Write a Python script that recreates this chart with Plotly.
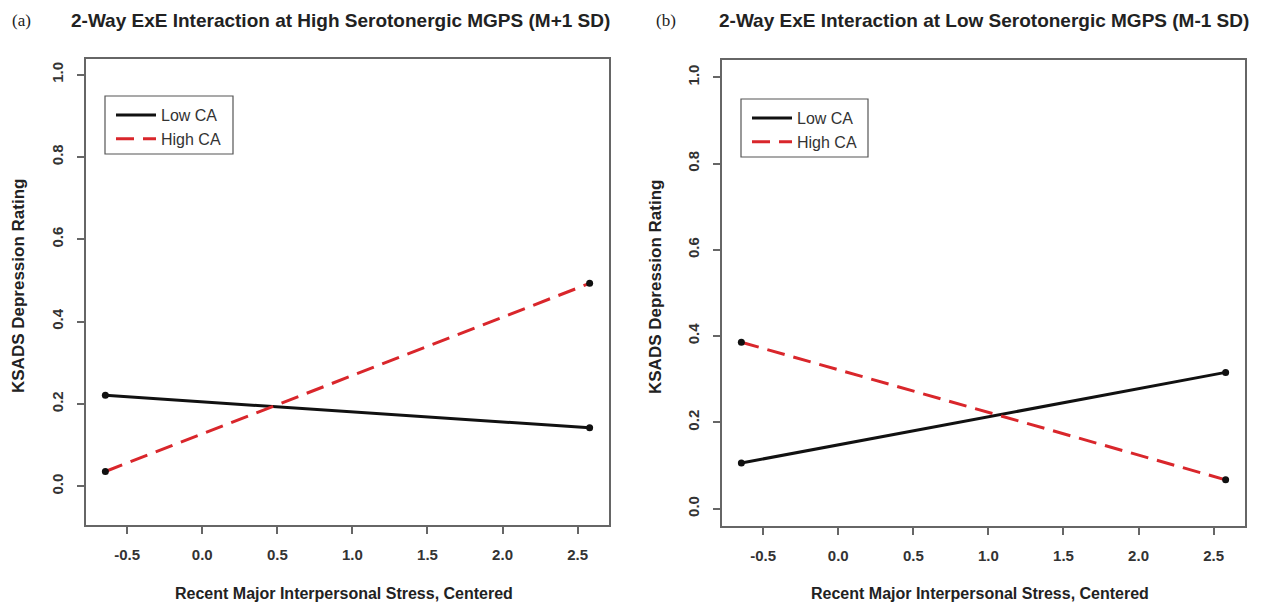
import plotly.graph_objects as go

# ---- data ----
stress_x = [-0.645, 2.58]
a_low_ca = [0.221, 0.142]
a_high_ca = [0.036, 0.493]
b_low_ca = [0.106, 0.316]
b_high_ca = [0.386, 0.067]
series_names = ["Low CA", "High CA"]
x_ticks = [-0.5, 0.0, 0.5, 1.0, 1.5, 2.0, 2.5]
y_ticks = [0.0, 0.2, 0.4, 0.6, 0.8, 1.0]
titles = ["2-Way ExE Interaction at High Serotonergic MGPS (M+1 SD)",
          "2-Way ExE Interaction at Low Serotonergic MGPS (M-1 SD)"]
panel_tags = ["(a)", "(b)"]
x_title = "Recent Major Interpersonal Stress, Centered"
y_title = "KSADS Depression Rating"

x_ticktext = [f"{v:.1f}" for v in x_ticks]
y_ticktext = [f"{v:.1f}" for v in y_ticks]

FONT = "Liberation Sans, Arial, Helvetica, sans-serif"
RED = "#d9262b"
BLACK = "#111111"

# page has an 8px body margin; work in window pixels
OFF = 8
W, H = 1265 - OFF, 603 - OFF


def px(x):
    return (x - OFF) / W


def py(y):
    return 1 - (y - OFF) / H


fig = go.Figure()

panels = [
    ("x", "y", "legend", a_low_ca, a_high_ca),
    ("x2", "y2", "legend2", b_low_ca, b_high_ca),
]
for xa, ya, leg, low, high in panels:
    fig.add_trace(go.Scatter(x=stress_x, y=low, mode="lines", name=series_names[0],
                             line=dict(color=BLACK, width=3), xaxis=xa, yaxis=ya, legend=leg))
    fig.add_trace(go.Scatter(x=stress_x, y=high, mode="lines", name=series_names[1],
                             line=dict(color=RED, width=3, dash="18px,9px"), xaxis=xa, yaxis=ya, legend=leg))
    fig.add_trace(go.Scatter(x=stress_x + stress_x, y=low + high, mode="markers",
                             marker=dict(color=BLACK, size=7), showlegend=False,
                             xaxis=xa, yaxis=ya))

axis_common = dict(showline=True, linecolor="#666666", linewidth=1.5, mirror=True,
                   ticks="outside", ticklen=7, tickcolor="#666666", tickwidth=1.5,
                   showgrid=False, zeroline=False, ticklabelstandoff=8,
                   tickfont=dict(family=FONT, size=15, color="#333333", weight="bold"))

# panel boxes in window pixels: (left, right, top, bottom)
box_a = (86, 609, 59, 525)
box_b = (722, 1245, 60, 526)

fig.update_layout(
    width=W, height=H,
    margin=dict(l=0, r=0, t=0, b=0),
    paper_bgcolor="white", plot_bgcolor="white",
    showlegend=True,
    xaxis=dict(domain=[px(box_a[0]), px(box_a[1])], range=[-0.774, 2.709], tickvals=x_ticks,
               ticktext=x_ticktext, anchor="y", **axis_common),
    yaxis=dict(domain=[py(box_a[3]), py(box_a[2])], range=[-0.094, 1.038], tickvals=y_ticks,
               ticktext=y_ticktext, anchor="x", tickangle=-90, **axis_common),
    xaxis2=dict(domain=[px(box_b[0]), px(box_b[1])], range=[-0.774, 2.709], tickvals=x_ticks,
                ticktext=x_ticktext, anchor="y2", **axis_common),
    yaxis2=dict(domain=[py(box_b[3]), py(box_b[2])], range=[-0.04, 1.04], tickvals=y_ticks,
                ticktext=y_ticktext, anchor="x2", tickangle=-90, **axis_common),
    legend=dict(x=px(111), y=py(98), xanchor="left", yanchor="top",
                borderwidth=0, bgcolor="rgba(0,0,0,0)",
                font=dict(family=FONT, size=16, color="#333333"),
                itemwidth=40, tracegroupgap=0),
    legend2=dict(x=px(747), y=py(101), xanchor="left", yanchor="top",
                 borderwidth=0, bgcolor="rgba(0,0,0,0)",
                 font=dict(family=FONT, size=16, color="#333333"),
                 itemwidth=40, tracegroupgap=0),
)

# legend frames
shapes = []
for (l, r, t, b) in [(105, 233, 96, 154), (741, 868, 99, 157)]:
    shapes.append(dict(type="rect", xref="paper", yref="paper",
                       x0=px(l), x1=px(r), y0=py(b), y1=py(t),
                       line=dict(color="#555555", width=1.2), fillcolor="rgba(0,0,0,0)",
                       layer="above"))
fig.update_layout(shapes=shapes)

annotations = []
title_cx = [340, 984]
tag_cx = [21, 666]
ylab_cx = [18, 655]
boxes = [box_a, box_b]
for i in range(2):
    bx = boxes[i]
    cx = (bx[0] + bx[1]) / 2
    cy = (bx[2] + bx[3]) / 2
    annotations.append(dict(text=titles[i], x=px(title_cx[i]), y=py(20),
                            xref="paper", yref="paper", showarrow=False,
                            xanchor="center", yanchor="middle",
                            font=dict(family=FONT, size=19, color="#222222", weight="bold")))
    annotations.append(dict(text=panel_tags[i], x=px(tag_cx[i]), y=py(20),
                            xref="paper", yref="paper", showarrow=False,
                            xanchor="center", yanchor="middle",
                            font=dict(family="Liberation Serif, Times New Roman, serif", size=17, color="#222222")))
    annotations.append(dict(text=x_title, x=px(cx - 4), y=py(593),
                            xref="paper", yref="paper", showarrow=False,
                            xanchor="center", yanchor="middle",
                            font=dict(family=FONT, size=16, color="#222222", weight="bold")))
    annotations.append(dict(text=y_title, x=px(ylab_cx[i]), y=py(cy - 6), textangle=-90,
                            xref="paper", yref="paper", showarrow=False,
                            xanchor="center", yanchor="middle",
                            font=dict(family=FONT, size=17, color="#222222", weight="bold")))
fig.update_layout(annotations=annotations)

fig.write_html("out.html")
